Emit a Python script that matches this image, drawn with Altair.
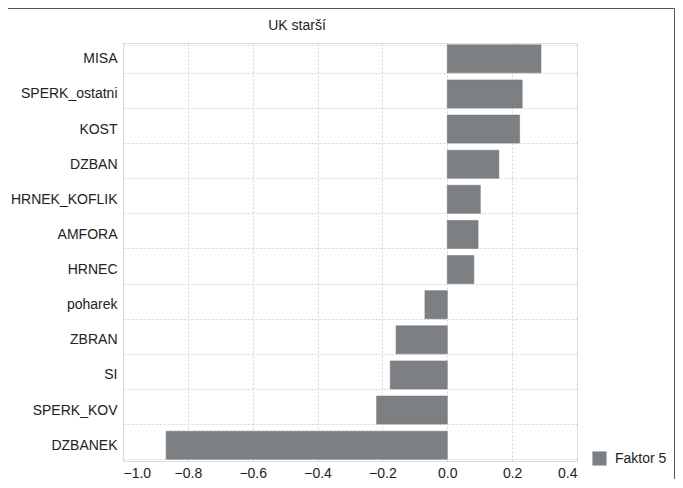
import altair as alt
import pandas as pd

categories = ["MISA", "SPERK_ostatni", "KOST", "DZBAN", "HRNEK_KOFLIK", "AMFORA",
              "HRNEC", "poharek", "ZBRAN", "SI", "SPERK_KOV", "DZBANEK"]
values = [0.289, 0.231, 0.223, 0.159, 0.102, 0.095, 0.082, -0.069, -0.158, -0.176, -0.218, -0.867]
series_name = "Faktor 5"
chart_title = "UK starší"
x_ticks = [-1.0, -0.8, -0.6, -0.4, -0.2, 0.0, 0.2, 0.4]

df = pd.DataFrame({"cat": categories, "val": values, "series": [series_name] * len(categories)})

W, H = 454, 418
FONT = "Liberation Sans"
FS = 14

frame = alt.Chart(pd.DataFrame({"a": [0]})).mark_rect(
    fill=None, stroke="#555555", strokeWidth=1
).encode(
    x=alt.value(-140), x2=alt.value(551.5), y=alt.value(-34.5), y2=alt.value(480)
)

title = alt.Chart(pd.DataFrame({"t": [chart_title]})).mark_text(
    font=FONT, fontSize=FS, color="#222222", align="center", baseline="alphabetic"
).encode(x=alt.value(174), y=alt.value(-13), text="t:N")

bars = alt.Chart(df).mark_bar(stroke="#6e7174", strokeWidth=0.5).encode(
    y=alt.Y("cat:N", sort=categories, title=None,
            scale=alt.Scale(paddingInner=0.2, paddingOuter=0.05),
            axis=alt.Axis(grid=True, tickBand="extent", gridDash=[2, 2], gridColor="#d4d4d4",
                          ticks=False, domain=False, labelFont=FONT, labelFontSize=FS,
                          labelColor="#222222", labelPadding=6)),
    x=alt.X("val:Q", title=None,
            scale=alt.Scale(domain=[-1.0, 0.4], nice=False, zero=False),
            axis=alt.Axis(values=x_ticks, format=".1f", grid=True, gridDash=[2, 2],
                          gridColor="#d4d4d4", ticks=False, domain=False,
                          labelFont=FONT, labelFontSize=FS, labelColor="#222222",
                          labelPadding=5)),
    color=alt.Color("series:N", title=None,
                    scale=alt.Scale(domain=[series_name], range=["#7d8083"]),
                    legend=alt.Legend(orient="none", legendX=469, legendY=408,
                                      symbolType="square", symbolSize=200,
                                      symbolStrokeWidth=0, labelFont=FONT,
                                      labelFontSize=FS, labelColor="#222222",
                                      labelOffset=8))
)

chart = alt.layer(frame, title, bars).properties(
    width=W, height=H,
    autosize=alt.AutoSizeParams(type="none"),
    padding={"left": 115, "top": 35, "right": 98, "bottom": 18},
).configure_view(stroke="#666666", strokeWidth=1).configure(background="white")

chart.save("out.html", embed_options={"renderer": "svg", "actions": False})
